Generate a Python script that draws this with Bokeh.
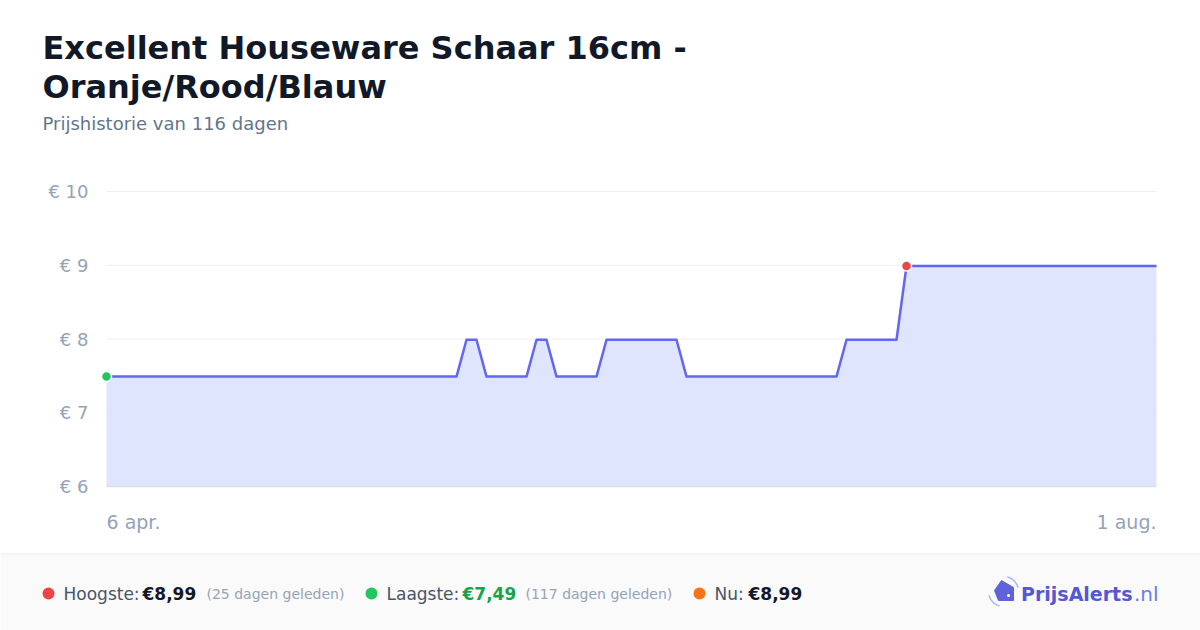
import math
from bokeh.plotting import figure
from bokeh.models import Range1d
from bokeh.core.properties import value
from bokeh.embed import file_html
from bokeh.resources import INLINE

# ---------------- data ----------------
title_lines = ["Excellent Houseware Schaar 16cm -", "Oranje/Rood/Blauw"]
subtitle = "Prijshistorie van 116 dagen"
date_labels = ["6 apr.", "1 aug."]
y_ticks = [6, 7, 8, 9, 10]
y_tick_labels = ["€ 6", "€ 7", "€ 8", "€ 9", "€ 10"]

prices = ([7.49] * 36 + [7.99] * 2 + [7.49] * 5 + [7.99] * 2 + [7.49] * 5 +
          [7.99] * 8 + [7.49] * 16 + [7.99] * 6 + [8.99] * 26)
idx = list(range(len(prices)))

high_label, high_value, high_note = "Hoogste:", "€8,99", "(25 dagen geleden)"
low_label, low_value, low_note = "Laagste:", "€7,49", "(117 dagen geleden)"
now_label, now_value = "Nu:", "€8,99"
brand_main, brand_tld = "PrijsAlerts", ".nl"

FONT = "DejaVu Sans"
W, H = 1200, 630

# canvas-wide figure: default ranges are page pixels (y downward);
# chart data uses its own scales ("c") mapped onto the plot area.
p = figure(width=W, height=H, x_range=Range1d(0, W), y_range=Range1d(H, 0),
           x_axis_location=None, y_axis_location=None, toolbar_location=None,
           output_backend="svg", min_border=0)
p.outline_line_color = None
p.grid.visible = False

# plot area 106..1156 px horizontally; y 6->486px, 10->191px
px_per_pt = 1050 / (len(prices) - 1)
xs = -106 / px_per_pt
p.extra_x_ranges = {"c": Range1d(xs, xs + W / px_per_pt)}
px_per_eur = (486 - 191) / (y_ticks[-1] - y_ticks[0])
ys = y_ticks[0] - (H - 486) / px_per_eur
p.extra_y_ranges = {"c": Range1d(ys, ys + H / px_per_eur)}
C = dict(x_range_name="c", y_range_name="c")

# ---------------- header ----------------
p.text(x=[42, 42], y=[47, 86], text=title_lines, text_font=value(FONT),
       text_font_size="32px", text_font_style="bold", text_color="#111827",
       text_baseline="alphabetic")
p.text(x=[42], y=[123], text=[subtitle], text_font=value(FONT),
       text_font_size="18px", text_color="#64748b", text_baseline="alphabetic")

# ---------------- chart ----------------
p.segment(x0=[idx[0]] * 4, x1=[idx[-1]] * 4, y0=y_ticks[1:], y1=y_ticks[1:],
          line_color="#eeeeee", line_width=1, **C)
p.varea(x=idx, y1=[y_ticks[0]] * len(idx), y2=prices, fill_color="#e0e5fe", **C)
p.segment(x0=[idx[0]], x1=[idx[-1]], y0=[y_ticks[0]], y1=[y_ticks[0]],
          line_color="#d9dcef", line_width=1.5, **C)
p.line(idx, prices, line_color="#6366f1", line_width=2.5, line_join="round", **C)

imax = prices.index(max(prices))
imin = prices.index(min(prices))
p.scatter([idx[imax]], [prices[imax]], size=10, fill_color="#ef4444",
          line_color="white", line_width=1.5, **C)
p.scatter([idx[imin]], [prices[imin]], size=10, fill_color="#22c55e",
          line_color="white", line_width=1.5, **C)

# y tick labels (right edge 18 px left of the plot area)
p.text(x=[idx[0] - 18 / px_per_pt] * len(y_ticks), y=y_ticks, text=y_tick_labels,
       text_align="right", text_baseline="middle", text_font=value(FONT),
       text_font_size="18px", text_color="#94a3b8", **C)
# x labels (first and last date)
xl_y = y_ticks[-1] - (521 - 191) / px_per_eur
p.text(x=[idx[0], idx[-1]], y=[xl_y, xl_y], text=date_labels,
       text_align=["left", "right"], text_baseline="middle",
       text_font=value(FONT), text_font_size="19px", text_color="#94a3b8", **C)

# ---------------- footer ----------------
p.quad(left=[0], right=[W], top=[553], bottom=[H], fill_color="#fafafa", line_color=None)
p.segment(x0=[0], x1=[W], y0=[553.5], y1=[553.5], line_color="#eeeeee", line_width=1)

cy = 593
p.scatter([48, 371, 699], [cy, cy, cy], size=12,
          fill_color=["#ef4444", "#22c55e", "#f97316"], line_color=None)

def ftext(x, t, size="17px", color="#475569", style="normal", align="left"):
    p.text(x=[x], y=[cy], text=[t], text_font=value(FONT), text_font_size=size,
           text_color=color, text_font_style=style, text_baseline="middle",
           text_align=align)

ftext(63, high_label)
ftext(142, high_value, color="#111827", style="bold")
ftext(206, high_note, size="14px", color="#94a3b8")
ftext(386, low_label)
ftext(462, low_value, color="#16a34a", style="bold")
ftext(525, low_note, size="14px", color="#94a3b8")
ftext(714, now_label)
ftext(748, now_value, color="#111827", style="bold")

# brand
ftext(1158, brand_tld, size="20px", color="#6b7be8", align="right")
ftext(1132, brand_main, size="19px", color="#5558d6", style="bold", align="right")
# tag icon
p.patch(x=[994, 1001, 1013, 1013, 998], y=[590, 580, 587, 600, 600],
        fill_color="#5f63d9", line_color="#5f63d9", line_width=1)
p.scatter([1008], [595], size=3, fill_color="white", line_color=None)
icx, icy, r = 1003, 591, 15
for a0, a1 in [(105, 165), (-75, -15)]:
    ang = [math.radians(a0 + (a1 - a0) * k / 12) for k in range(13)]
    p.line([icx + r * math.cos(a) for a in ang], [icy + r * math.sin(a) for a in ang],
           line_color="#a5b4fc", line_width=1.5)

open("out.html", "w").write(file_html(p, INLINE))
